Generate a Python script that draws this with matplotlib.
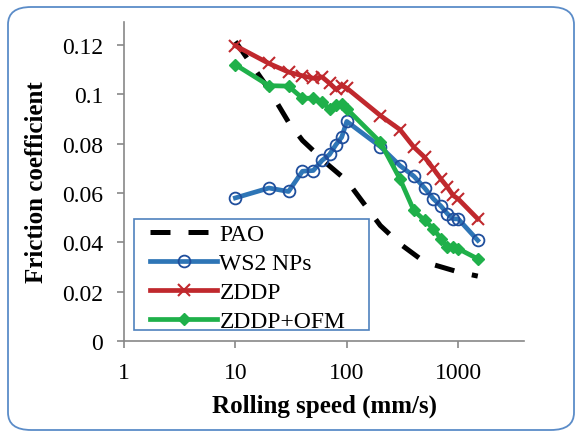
import numpy as np
import matplotlib.pyplot as plt
from matplotlib.patches import FancyBboxPatch, Rectangle

plt.rc('font', family='Liberation Serif')

speed = [10, 20, 30, 40, 50, 60, 70, 80, 90, 100,
         200, 300, 400, 500, 600, 700, 800, 900, 1000, 1500]
pao_speed = [10, 20, 30, 40, 50, 60, 100, 200, 300, 500, 1000, 1500]
pao = [0.1214, 0.1020, 0.0887, 0.0813, 0.0772, 0.0735, 0.0650,
       0.0468, 0.0394, 0.0320, 0.0280, 0.0263]
ws2 = [0.0580, 0.0620, 0.0606, 0.0688, 0.0691, 0.0732, 0.0756, 0.0796, 0.0826, 0.0890,
       0.0788, 0.0711, 0.0668, 0.0620, 0.0576, 0.0547, 0.0516, 0.0495, 0.0495, 0.0408]
zddp = [0.1197, 0.1125, 0.1090, 0.1075, 0.1065, 0.1070, 0.1045, 0.1020, 0.1035, 0.1025,
        0.0914, 0.0857, 0.0786, 0.0745, 0.0698, 0.0657, 0.0624, 0.0590, 0.0576, 0.0495]
zddp_ofm = [0.1120, 0.1035, 0.1033, 0.0984, 0.0984, 0.0968, 0.0941, 0.0957, 0.0961, 0.0941,
            0.0806, 0.0657, 0.0529, 0.0489, 0.0455, 0.0414, 0.0381, 0.0381, 0.0374, 0.0333]

W, H = 579, 435
fig = plt.figure(figsize=(W/100, H/100), dpi=100)
ax = fig.add_axes([124/W, 1-342/H, 400/W, 319/H])

ax.plot(pao_speed, pao, color='black', lw=3.6, dashes=(4, 3.6),
        dash_capstyle='butt', label='PAO')
ax.plot(speed, ws2, color='#2e75b6', lw=3.4, marker='o', ms=8.5, mfc='none',
        mec='#1f4e9c', mew=1.3, label='WS2 NPs')
ax.plot(speed, zddp, color='#c0282d', lw=3.4, marker='x', ms=9, mew=1.5, label='ZDDP')
ax.plot(speed, zddp_ofm, color='#1fb04a', lw=3.4, marker='D', ms=6, label='ZDDP+OFM')

ax.set_xscale('log')
ax.set_xlim(1, 3900)
ax.set_ylim(0, 0.1293)
ax.set_xticks([1, 10, 100, 1000])
ax.set_xticklabels(['1', '10', '100', '1000'])
ax.xaxis.set_minor_locator(plt.NullLocator())
ax.set_yticks([0, 0.02, 0.04, 0.06, 0.08, 0.1, 0.12])
ax.set_yticklabels(['0', '0.02', '0.04', '0.06', '0.08', '0.1', '0.12'])
for s in ['top', 'right']:
    ax.spines[s].set_visible(False)
for s in ['left', 'bottom']:
    ax.spines[s].set_color('#888888')
    ax.spines[s].set_linewidth(1.2)
ax.tick_params(direction='out', length=5, width=1.2, color='#888888', labelsize=17, pad=10)

ax.set_xlabel('Rolling speed (mm/s)', fontsize=18, fontweight='bold', labelpad=8)
ax.set_ylabel('Friction coefficient', fontsize=18, fontweight='bold', labelpad=10)

# legend frame drawn separately (wider side padding than top/bottom)
ax.add_patch(Rectangle((134/W, 1-331/H), 235/W, 111/H, transform=fig.transFigure,
                       facecolor='white', edgecolor='#4f81bd', lw=1.2, zorder=4,
                       clip_on=False))
leg = ax.legend(loc='upper left', bbox_to_anchor=(26/400, 0.368), fontsize=17,
                frameon=False, handlelength=2.84, handletextpad=0.1, borderpad=0,
                labelspacing=0.32, borderaxespad=0)
leg.set_zorder(5)

fig.patches.append(FancyBboxPatch((8/W, 4/H), 566/W, 423/H,
                                  boxstyle='round,pad=0,rounding_size=0.04',
                                  transform=fig.transFigure, fill=False,
                                  edgecolor='#5b8cc8', lw=1.3))

fig.savefig('out.png', dpi=100)
